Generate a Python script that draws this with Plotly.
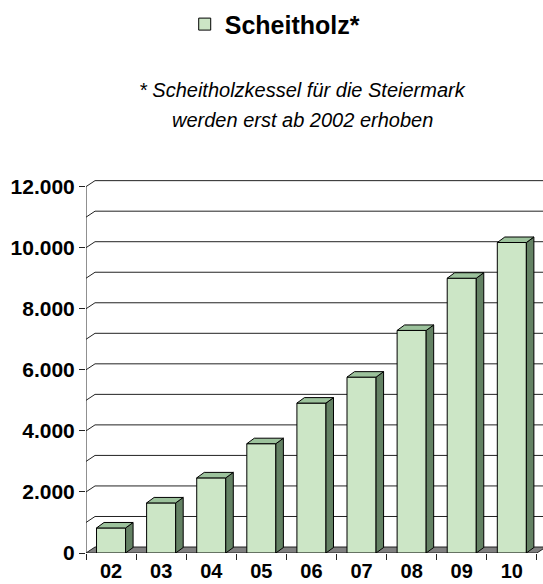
import plotly.graph_objects as go

# ---- data ----
years = ["02", "03", "04", "05", "06", "07", "08", "09", "10"]
values = [820, 1640, 2460, 3580, 4910, 5760, 7290, 9000, 10170]
y_ticks = [0, 2000, 4000, 6000, 8000, 10000, 12000]
grid_levels = [1000, 2000, 3000, 4000, 5000, 6000, 7000, 8000, 9000, 10000, 11000, 12000]
series_name = "Scheitholz*"
note_lines = ["* Scheitholzkessel für die Steiermark", "werden erst ab 2002 erhoben"]

# ---- style ----
FRONT = "#CCE6C6"
SIDE = "#648264"
TOP = "#9CC29C"
FLOOR = "#808080"
FONT = "Liberation Sans, Arial, sans-serif"
BAR_W = 0.58
BDX, BDY = 0.15, 180      # bar depth offset (data units)
WDX, WDY = 0.18, 196      # wall depth offset (data units)
n = len(years)
XMIN, XMAX = -0.5, 8.622
YMAX = 12250

fig = go.Figure()

# front faces
fig.add_trace(go.Bar(
    x=list(range(n)), y=values, width=BAR_W, name=series_name,
    marker=dict(color=FRONT, line=dict(color="black", width=1)),
    showlegend=True, hoverinfo="skip"))

# side and top faces
for i, v in enumerate(values):
    xl, xr = i - BAR_W / 2, i + BAR_W / 2
    fig.add_trace(go.Scatter(
        x=[xr, xr + BDX, xr + BDX, xr, xr], y=[0, BDY, v + BDY, v, 0],
        mode="lines", fill="toself", fillcolor=SIDE,
        line=dict(color="black", width=1), showlegend=False, hoverinfo="skip"))
    fig.add_trace(go.Scatter(
        x=[xl, xl + BDX, xr + BDX, xr, xl], y=[v, v + BDY, v + BDY, v, v],
        mode="lines", fill="toself", fillcolor=TOP,
        line=dict(color="black", width=1), showlegend=False, hoverinfo="skip"))

shapes = []
# back wall gridlines + left wall diagonals
for g in grid_levels:
    shapes.append(dict(type="line", xref="x", yref="y", x0=XMIN, y0=g, x1=XMIN + WDX, y1=g + WDY,
                       line=dict(color="#222222", width=1), layer="below"))
    shapes.append(dict(type="line", xref="x", yref="y", x0=XMIN + WDX, y0=g + WDY, x1=XMAX, y1=g + WDY,
                       line=dict(color="#222222", width=1), layer="below"))
# floor
x_end = n - 0.5
shapes.append(dict(type="path", xref="x", yref="y",
                   path=f"M {XMIN},0 L {x_end},0 L {x_end + WDX},{WDY} L {XMIN + WDX},{WDY} Z",
                   fillcolor=FLOOR, line=dict(color="#222222", width=1), layer="below"))
# value axis line
shapes.append(dict(type="line", xref="x", yref="y", x0=XMIN, y0=0, x1=XMIN, y1=max(y_ticks),
                   line=dict(color="#222222", width=1), layer="below"))

annotations = [
    dict(text=note_lines[0], xref="paper", yref="paper", x=0.473, y=(553 - 90) / 374,
         xanchor="center", yanchor="middle", showarrow=False,
         font=dict(family=FONT, size=20, color="black", style="italic")),
    dict(text=note_lines[1], xref="paper", yref="paper", x=0.473, y=(553 - 120) / 374,
         xanchor="center", yanchor="middle", showarrow=False,
         font=dict(family=FONT, size=20, color="black", style="italic")),
]

fig.update_layout(
    width=543, height=584,
    margin=dict(l=86, r=0, t=179, b=31, autoexpand=False),
    paper_bgcolor="white", plot_bgcolor="white",
    separators=",.",
    showlegend=True,
    legend=dict(orientation="h", x=0.216, xanchor="left", y=1.475, yanchor="top",
                font=dict(family=FONT, size=25, color="black", weight="bold"),
                bgcolor="rgba(0,0,0,0)"),
    shapes=shapes,
    annotations=annotations,
    bargap=0.4,
    xaxis=dict(range=[XMIN, XMAX], tickmode="array", tickvals=list(range(n)), ticktext=years,
               ticks="", showgrid=False, zeroline=False, showline=False, automargin=False,
               tickfont=dict(family=FONT, size=20, color="black", weight="bold"),
               ticklabelstandoff=4,
               minor=dict(tickmode="array", tickvals=[i - 0.5 for i in range(n + 1)],
                          ticks="outside", ticklen=6, tickcolor="#222222", showgrid=False)),
    yaxis=dict(range=[0, YMAX], tickmode="array", tickvals=y_ticks, tickformat=",.0f",
               ticks="outside", ticklen=6, tickcolor="#222222", automargin=False,
               showgrid=False, zeroline=False, showline=False,
               tickfont=dict(family=FONT, size=21, color="black", weight="bold")),
)

fig.write_html("out.html", config={"displayModeBar": False, "staticPlot": True},
               post_script="document.body.style.margin='0';document.body.style.overflow='hidden';")
